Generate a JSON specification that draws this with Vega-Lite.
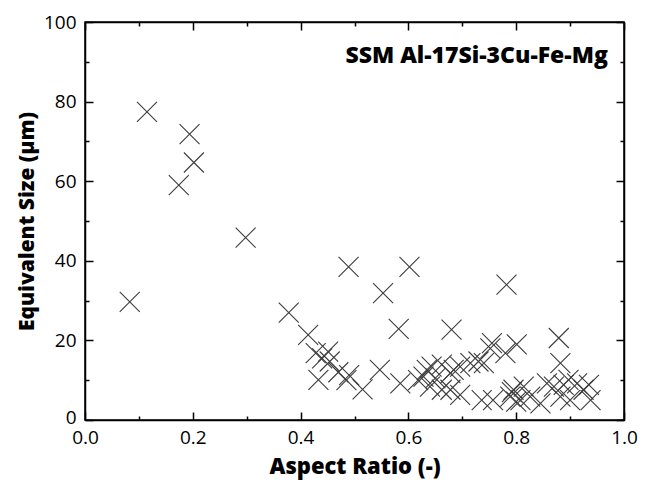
{
  "$schema": "https://vega.github.io/schema/vega-lite/v6.json",
  "width": 539,
  "height": 398,
  "autosize": "none",
  "padding": {"left": 85, "top": 22, "right": 26, "bottom": 64},
  "background": "white",
  "config": {
    "view": {"stroke": "black", "strokeWidth": 1.5},
    "font": "Open Sans",
    "axis": {
      "domainColor": "black", "domainWidth": 1.5, "tickColor": "black", "tickWidth": 1.5,
      "grid": false, "labelFont": "Open Sans", "labelFontSize": 19, "labelColor": "black",
      "titleFont": "Open Sans", "titleFontSize": 21, "titleFontWeight": 800, "titleColor": "black"
    }
  },
  "layer": [
    {
      "data": {"values": [
        {"ar": 0.083, "size": 29.7}, {"ar": 0.115, "size": 77.4}, {"ar": 0.194, "size": 71.8},
        {"ar": 0.202, "size": 64.7}, {"ar": 0.174, "size": 59.0}, {"ar": 0.298, "size": 45.8},
        {"ar": 0.489, "size": 38.5}, {"ar": 0.602, "size": 38.5}, {"ar": 0.553, "size": 31.9},
        {"ar": 0.378, "size": 27.0}, {"ar": 0.582, "size": 22.9}, {"ar": 0.680, "size": 22.7},
        {"ar": 0.782, "size": 34.0}, {"ar": 0.879, "size": 20.6}, {"ar": 0.414, "size": 21.4},
        {"ar": 0.451, "size": 17.2}, {"ar": 0.428, "size": 16.8}, {"ar": 0.454, "size": 14.7},
        {"ar": 0.433, "size": 10.1}, {"ar": 0.490, "size": 11.3}, {"ar": 0.485, "size": 10.0},
        {"ar": 0.547, "size": 12.6}, {"ar": 0.515, "size": 7.7}, {"ar": 0.585, "size": 9.2},
        {"ar": 0.618, "size": 10.0}, {"ar": 0.755, "size": 19.3}, {"ar": 0.780, "size": 16.8},
        {"ar": 0.801, "size": 19.0}, {"ar": 0.752, "size": 18.0}, {"ar": 0.643, "size": 13.4},
        {"ar": 0.662, "size": 13.9}, {"ar": 0.628, "size": 10.9}, {"ar": 0.650, "size": 10.5},
        {"ar": 0.684, "size": 12.6}, {"ar": 0.696, "size": 13.4}, {"ar": 0.715, "size": 14.3},
        {"ar": 0.730, "size": 14.7}, {"ar": 0.740, "size": 14.3}, {"ar": 0.696, "size": 6.3},
        {"ar": 0.678, "size": 7.6}, {"ar": 0.736, "size": 5.0}, {"ar": 0.757, "size": 5.0},
        {"ar": 0.789, "size": 5.9}, {"ar": 0.792, "size": 7.0}, {"ar": 0.882, "size": 14.3},
        {"ar": 0.795, "size": 7.6}, {"ar": 0.814, "size": 8.4}, {"ar": 0.808, "size": 5.0},
        {"ar": 0.826, "size": 5.9}, {"ar": 0.845, "size": 4.2}, {"ar": 0.857, "size": 9.2},
        {"ar": 0.870, "size": 8.4}, {"ar": 0.888, "size": 8.8}, {"ar": 0.882, "size": 5.9},
        {"ar": 0.900, "size": 5.0}, {"ar": 0.913, "size": 9.2}, {"ar": 0.925, "size": 7.6},
        {"ar": 0.935, "size": 8.8}, {"ar": 0.938, "size": 5.0}, {"ar": 0.897, "size": 10.1},
        {"ar": 0.634, "size": 12.6}, {"ar": 0.640, "size": 8.4}, {"ar": 0.662, "size": 7.6},
        {"ar": 0.678, "size": 11.8}, {"ar": 0.800, "size": 4.6}, {"ar": 0.440, "size": 15.5},
        {"ar": 0.470, "size": 12.0}
      ]},
      "mark": {"type": "point", "shape": "M-1,-1L1,1M-1,1L1,-1", "filled": false, "stroke": "#3c3c3c", "strokeWidth": 1.1, "size": 400, "opacity": 1},
      "encoding": {
        "x": {"field": "ar", "type": "quantitative", "scale": {"domain": [0, 1], "nice": false, "zero": false},
          "axis": {"title": "Aspect Ratio (-)", "orient": "bottom", "values": [0, 0.1, 0.2, 0.3, 0.4, 0.5, 0.6, 0.7, 0.8, 0.9, 1.0],
            "labelExpr": "(round(datum.value*10) % 2 == 0) ? format(datum.value, '.1f') : ''",
            "tickSize": {"condition": {"test": "round(datum.value*10) % 2 == 0", "value": -8}, "value": -4},
            "labelPadding": 16, "titlePadding": 9, "labelFlush": false, "titleFontSize": 22}},
        "y": {"field": "size", "type": "quantitative", "scale": {"domain": [0, 100], "nice": false, "zero": true},
          "axis": {"title": "Equivalent Size (μm)", "orient": "left", "values": [0, 10, 20, 30, 40, 50, 60, 70, 80, 90, 100],
            "labelExpr": "(datum.value % 20 == 0) ? datum.label : ''",
            "tickSize": {"condition": {"test": "datum.value % 20 == 0", "value": -8}, "value": -4},
            "labelOffset": {"condition": {"test": "datum.value == 0", "value": -3}, "value": 0},
            "labelPadding": 17, "titlePadding": 6, "labelFlush": false}}
      }
    },
    {
      "data": {"values": [{"ar": 0.97, "size": 91.5, "label": "SSM Al-17Si-3Cu-Fe-Mg"}]},
      "mark": {"type": "text", "align": "right", "baseline": "middle", "font": "Open Sans", "fontWeight": 800, "fontSize": 23, "color": "black"},
      "encoding": {
        "x": {"field": "ar", "type": "quantitative", "scale": {"domain": [0, 1], "nice": false, "zero": false},
          "axis": {"title": null, "orient": "top", "labels": false, "values": [0, 0.1, 0.2, 0.3, 0.4, 0.5, 0.6, 0.7, 0.8, 0.9, 1.0],
            "tickSize": {"condition": {"test": "round(datum.value*10) % 2 == 0", "value": -8}, "value": -4}}},
        "y": {"field": "size", "type": "quantitative", "scale": {"domain": [0, 100], "nice": false},
          "axis": {"title": null, "orient": "right", "labels": false, "values": [0, 10, 20, 30, 40, 50, 60, 70, 80, 90, 100],
            "tickSize": {"condition": {"test": "datum.value % 20 == 0", "value": -8}, "value": -4}}},
        "text": {"field": "label"}
      }
    }
  ],
  "resolve": {"axis": {"x": "independent", "y": "independent"}}
}
